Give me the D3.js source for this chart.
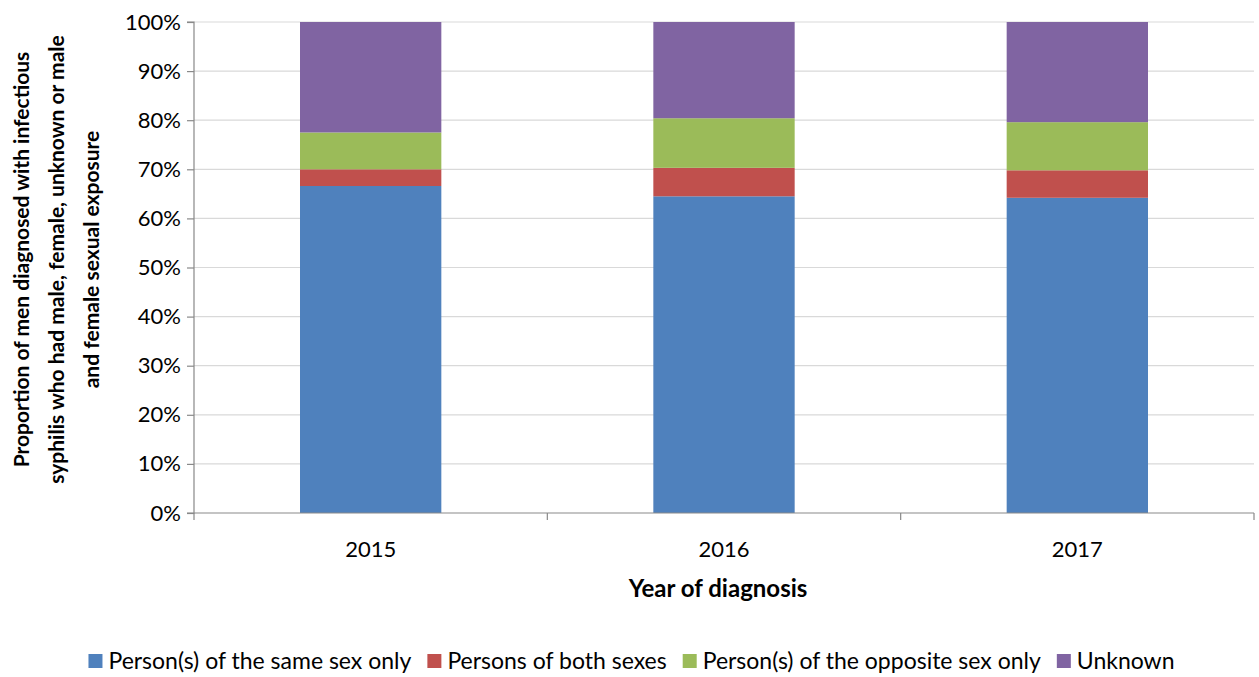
<!DOCTYPE html>
<html lang="en">
<head>
  <meta charset="UTF-8">
  <title>Infectious syphilis exposure</title>
  <script src="https://d3js.org/d3.v7.min.js"></script>
  <style>
    body { margin: 0; background: white; font-family: Lato, 'Open Sans', sans-serif; }
    .tick text { font-size: 22px; fill: #000; font-family: Lato, sans-serif; }
    .axis-title { font-size: 21px; font-weight: bold; fill: #000; }
    .legend text { font-size: 23px; fill: #000; }
  </style>
</head>
<body>
  <svg width="1259" height="677"></svg>
  <script>
    const years = ["2015", "2016", "2017"];
    const seriesNames = ["Person(s) of the same sex only", "Persons of both sexes", "Person(s) of the opposite sex only", "Unknown"];
    const sameSex = [66.6, 64.5, 64.2];
    const bothSexes = [3.4, 5.8, 5.6];
    const oppositeSex = [7.5, 10.1, 9.8];
    const unknown = [22.5, 19.6, 20.4];
    const yTicks = [0, 10, 20, 30, 40, 50, 60, 70, 80, 90, 100];
    const colors = ["#4F81BD", "#C0504D", "#9BBB59", "#8064A2"];

    const svg = d3.select("svg");
    const margin = {left: 194, right: 5, top: 22, bottom: 164};
    const width = 1259 - margin.left - margin.right,
      height = 677 - margin.top - margin.bottom;
    const g = svg.append("g").attr("transform", `translate(${margin.left},${margin.top})`);

    const rows = years.map((y, i) => ({
      year: y, s0: sameSex[i], s1: bothSexes[i], s2: oppositeSex[i], s3: unknown[i]
    }));
    const stack = d3.stack().keys(["s0", "s1", "s2", "s3"]);
    const stacked = stack(rows);

    const x = d3.scaleBand().domain(years).range([0, width]).paddingInner(0.6).paddingOuter(0.3);
    const xEdge = d3.scaleLinear().domain([0, years.length]).range([0, width]);
    const y = d3.scaleLinear().domain([0, 100]).range([height, 0]);

    // gridlines
    g.append("g").selectAll("line").data(yTicks.slice(1)).join("line")
      .attr("x1", 0).attr("x2", width)
      .attr("y1", d => y(d)).attr("y2", d => y(d))
      .attr("stroke", "#D9D9D9").attr("stroke-width", 1.2);

    // bars
    g.append("g").selectAll("g").data(stacked).join("g")
      .attr("fill", (d, i) => colors[i])
      .selectAll("rect").data(d => d).join("rect")
        .attr("x", d => x(d.data.year))
        .attr("width", x.bandwidth())
        .attr("y", d => y(d[1]))
        .attr("height", d => y(d[0]) - y(d[1]));

    // y axis
    const yAxis = g.append("g")
      .call(d3.axisLeft(y).tickValues(yTicks).tickFormat(d => d + "%").tickSize(7).tickPadding(6));
    yAxis.selectAll("line, path").attr("stroke", "#898989").attr("stroke-width", 1.2);
    yAxis.select(".domain").attr("d", `M-7,${y(100)}H0V${y(0)}H-7`);

    // x axis
    const xAxis = g.append("g").attr("transform", `translate(0,${height})`);
    xAxis.append("line").attr("x1", 0).attr("x2", width)
      .attr("stroke", "#898989").attr("stroke-width", 1.2);
    xAxis.selectAll(".edge").data(d3.range(years.length + 1)).join("line")
      .attr("class", "edge")
      .attr("x1", d => xEdge(d)).attr("x2", d => xEdge(d))
      .attr("y1", 0).attr("y2", 7)
      .attr("stroke", "#898989").attr("stroke-width", 1.2);
    xAxis.selectAll("text").data(years).join("text")
      .attr("x", d => x(d) + x.bandwidth() / 2)
      .attr("y", 44)
      .attr("text-anchor", "middle")
      .style("font-size", "22px")
      .text(d => d);

    g.append("text").attr("class", "axis-title")
      .attr("x", width / 2 - 6).attr("y", height + 84)
      .attr("text-anchor", "middle")
      .style("font-size", "24px")
      .text("Year of diagnosis");

    // y title
    const yTitle = svg.append("text").attr("class", "axis-title")
      .attr("transform", `translate(29,${margin.top + height / 2 - 8}) rotate(-90)`)
      .attr("text-anchor", "middle");
    ["Proportion of men diagnosed with infectious",
     "syphilis who had male, female, unknown or male",
     "and female sexual exposure"].forEach((t, i) => {
      yTitle.append("tspan").attr("x", 0).attr("dy", i === 0 ? 0 : 35).text(t);
    });

    // legend
    const legend = svg.append("g").attr("class", "legend");
    let lx = 0;
    const items = [];
    seriesNames.forEach((name, i) => {
      const it = legend.append("g");
      it.append("rect").attr("width", 14).attr("height", 14).attr("y", -15).attr("fill", colors[i]);
      const t = it.append("text").attr("x", 20).attr("y", 0).text(name);
      items.push({it, w: 20 + t.node().getComputedTextLength()});
    });
    items.forEach(d => { d.it.attr("transform", `translate(${lx},0)`); lx += d.w + 16; });
    lx -= 16;
    legend.attr("transform", `translate(${(1259 - lx) / 2 + 2},669)`);
  </script>
</body>
</html>
